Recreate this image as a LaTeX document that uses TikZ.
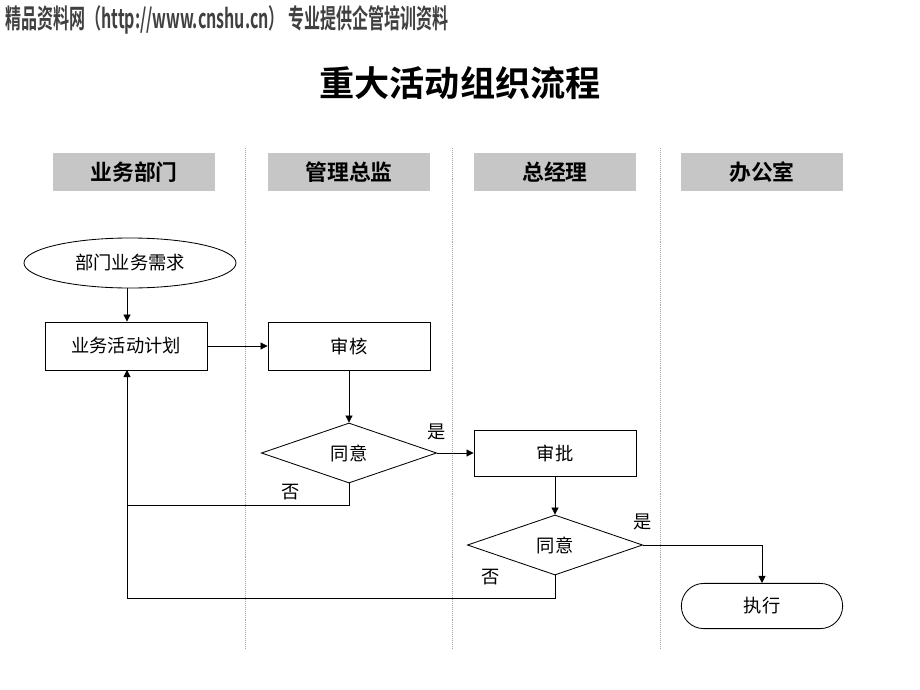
\documentclass[tikz,border=0pt]{standalone}
\usepackage{fontspec}
\newfontfamily\cjk{Noto Sans CJK SC}
\newfontfamily\cjkb{Noto Sans CJK SC Bold}
\newfontfamily\cjknarrow[FakeStretch=0.6]{Noto Sans CJK SC Bold}
\usetikzlibrary{arrows.meta,positioning,shapes.geometric}

\tikzset{
  lanehead/.style={fill=gray!45,minimum width=4.05cm,minimum height=0.95cm,font=\cjkb\fontsize{15.5}{18}\selectfont},
  procbox/.style={draw,line width=0.6pt,minimum width=4.05cm,minimum height=1.2cm},
  decide/.style={draw,line width=0.6pt,diamond,aspect=3,minimum width=4.38cm,minimum height=1.5cm,inner sep=0pt},
  startcap/.style={draw,line width=0.6pt,ellipse,minimum width=5.3cm,minimum height=1.25cm},
  endcap/.style={draw,line width=0.6pt,rounded corners=0.56cm,minimum width=4.03cm,minimum height=1.13cm},
  lane/.style={densely dotted,gray!70},
  link/.style={->,line width=0.6pt},
  tag/.style={font=\cjk\fontsize{13}{15}\selectfont}
}

\begin{document}
\begin{tikzpicture}[x=0.025cm,y=-0.025cm,>={Triangle[length=5pt,width=5pt]},
  font=\cjk\fontsize{13}{15}\selectfont]
  \useasboundingbox (0,0) rectangle (920,690);

  % page header and title
  \node[anchor=west,inner sep=0pt,text=black!75,font=\cjknarrow\fontsize{19}{21}\selectfont] (site) at (5,20)
    {精品资料网（http://www.cnshu.cn） 专业提供企管培训资料};
  \node[font=\cjkb\fontsize{25}{28}\selectfont] (title) at (460,83) {重大活动组织流程};

  % swim lanes
  \node[lanehead] (dept) at (134,172) {业务部门};
  \node[lanehead] (dir) at (349,172) {管理总监};
  \node[lanehead] (gm) at (555,172) {总经理};
  \node[lanehead] (office) at (762,172) {办公室};
  \foreach \x in {245,452,660}
    \draw[lane] (\x,148) -- (\x,650);

  % flow
  \node[startcap] (need) at (130,263) {部门业务需求};
  \node[procbox] (plan) at (126,346) {业务活动计划};
  \node[procbox] (check) at (349,346) {审核};
  \node[decide] (ok1) at (349,453) {同意};
  \node[procbox,minimum height=1.15cm] (approve) at (555,453) {审批};
  \node[decide] (ok2) at (555,545) {同意};
  \node[endcap] (run) at (762,606) {执行};

  \coordinate (back) at (127,370);
  \coordinate (no1) at (349,505);
  \coordinate (no2) at (555,598);

  \draw[link] (need.south -| back) -- (plan.north -| back);
  \draw[link] (plan) -- (check);
  \draw[link] (check) -- (ok1);
  \draw[link] (ok1.east) -- (approve.west);
  \draw[link] (approve) -- (ok2);
  \draw[link] (ok2.east) -| (run.north);
  \draw[line width=0.6pt] (ok1.south) -- (no1) -- (no1 -| back);
  \draw[link] (ok2.south) -- (no2) -- (no2 -| back) -- (back);

  \node[tag] (yes1) at (437,432) {是};
  \node[tag] (nay1) at (291,492) {否};
  \node[tag] (yes2) at (643,522) {是};
  \node[tag] (nay2) at (491,577) {否};
\end{tikzpicture}
\end{document}
